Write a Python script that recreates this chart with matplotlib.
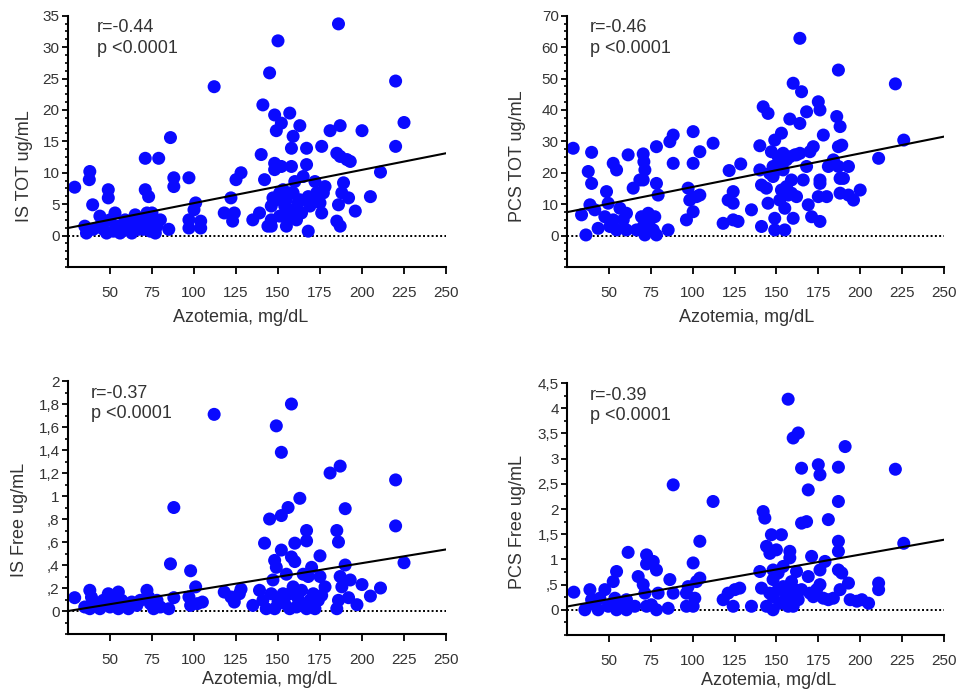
import matplotlib
matplotlib.use("Agg")
import matplotlib.pyplot as plt
from matplotlib.ticker import AutoMinorLocator, FixedLocator, FixedFormatter

plt.rcParams["font.family"] = ["Liberation Sans", "DejaVu Sans"]

# ---- data (azotemia mg/dL vs toxin ug/mL) ----
x_ticks = [50, 75, 100, 125, 150, 175, 200, 225, 250]

is_tot_x = [29, 38, 37.7, 39.7, 36, 35, 40, 44, 44, 49, 49, 48, 50, 53, 55, 56, 59, 61, 63, 65,
            67, 68, 71, 71, 73, 72, 73, 75, 77, 79, 80, 85, 86, 88, 88, 97, 101, 100, 97, 97,
            104, 104, 112, 118, 122, 124, 123, 125, 128, 135, 139, 140, 141, 142, 145, 146, 147, 146, 148, 149,
            150, 148, 148, 151, 152, 152, 153, 154, 155, 157, 158, 159, 158, 159, 160, 162, 163, 164, 165, 167,
            167, 168, 168, 169, 172, 175, 176, 176, 177, 178, 181, 186, 185, 187, 186, 185, 187, 187, 189, 188,
            191, 193, 192, 196, 200, 205, 211, 220, 220, 225,
            144, 146, 149, 151, 155, 157, 156, 159, 161, 163, 171, 173, 46, 52, 58, 62, 70, 74, 78, 75]
is_tot_y = [7.7, 10.2, 8.9, 4.9, 0.4, 1.5, 1.0, 3.1, 1.5, 7.3, 6.0, 0.4, 2.5, 3.6, 1.5, 0.4, 2.5, 1.5, 0.4, 3.3,
            1.0, 2.5, 12.3, 7.3, 6.2, 3.6, 2.5, 1.5, 0.4, 12.3, 2.5, 1.0, 15.6, 9.2, 7.8, 9.2, 5.2, 4.1, 2.5, 1.2,
            2.3, 1.2, 23.7, 3.6, 6.0, 3.6, 2.3, 8.9, 10.0, 2.5, 3.6, 12.9, 20.8, 8.9, 25.9, 4.7, 6.0, 1.5, 19.2, 16.7,
            31.0, 11.5, 10.5, 3.1, 17.9, 11.0, 7.3, 4.7, 1.5, 19.5, 13.9, 15.8, 11.0, 6.8, 8.6, 5.2, 17.5, 3.6, 9.4, 13.9,
            11.3, 0.7, 6.2, 4.7, 8.6, 5.2, 14.2, 3.6, 6.8, 7.8, 16.7, 33.7, 13.1, 17.5, 4.9, 2.3, 1.5, 12.6, 8.4, 6.8,
            12.1, 11.8, 6.0, 3.9, 16.7, 6.2, 10.1, 14.2, 24.6, 18.0,
            1.5, 2.5, 5.7, 6.8, 5.7, 6.8, 3.1, 4.1, 2.5, 5.7, 5.7, 6.8, 1.0, 0.7, 1.0, 2.3, 1.0, 0.7, 1.5, 3.6]

pcs_tot_x = [28.7, 33.7, 36.3, 39.7, 37.7, 39.7, 38.7, 41.6, 43.6, 48.6, 49.6, 47.6, 50.6, 52.6, 54.6, 52.6, 54.6, 56.6, 58.6, 60.5,
             61.5, 60.5, 64.5, 66.5, 68.5, 70.5, 70.9, 71.5, 70.5, 69.5, 70.5, 71.5, 73.5, 74.5, 76.5, 78.4, 78.4, 79.4, 78.4, 77.4,
             85.4, 86.4, 88.4, 88.4, 96.3, 97.3, 98.3, 100.3, 100.3, 100.3, 102.3, 104.3, 104.3, 112.2, 118.2, 121.8, 121.2, 124.2, 124.2, 124.2,
             127.1, 128.7, 135.1, 140.1, 141.1, 142.1, 145, 140.1, 141.1, 144, 145, 147, 148, 149, 148, 149, 149, 151, 152, 153,
             154, 153, 155, 155, 156, 157, 158, 159, 160, 160, 159, 161, 164, 164, 165, 166, 168, 168, 169, 170,
             171, 172, 175, 176, 176, 176, 175, 176, 178, 180, 181, 184, 186, 187, 188, 187, 189, 187, 188, 190,
             188, 193, 193, 196, 200, 211, 221, 226,
             146, 150, 152, 154, 158, 162, 164, 156, 162]
pcs_tot_y = [27.8, 6.6, 0.2, 26.5, 20.4, 16.6, 9.8, 8.2, 2.3, 14.0, 10.3, 6.0, 2.9, 23.0, 20.9, 5.0, 1.8, 8.7, 5.0, 7.1,
             25.7, 1.8, 15.1, 1.8, 17.7, 26.0, 23.5, 20.9, 17.7, 6.0, 2.9, 0.2, 7.1, 5.0, 1.8, 28.3, 16.6, 12.9, 0.2, 6.0,
             1.8, 29.9, 32.0, 23.0, 5.0, 15.1, 11.3, 7.6, 33.1, 23.0, 12.4, 26.7, 12.9, 29.4, 3.9, 20.7, 11.3, 14.0, 10.3, 5.0,
             4.5, 22.8, 8.2, 28.6, 2.9, 41.0, 38.9, 20.9, 16.1, 15.1, 10.3, 26.7, 22.0, 30.4, 18.8, 5.5, 1.8, 25.1, 11.3, 32.6,
             26.2, 14.5, 1.8, 8.7, 24.1, 12.9, 37.1, 17.7, 48.5, 5.5, 13.5, 25.7, 62.8, 35.7, 45.8, 17.7, 39.4, 22.0, 9.8, 26.7,
             6.0, 28.3, 42.6, 40.0, 17.7, 16.6, 12.4, 4.5, 32.0, 12.4, 22.0, 24.1, 37.9, 52.7, 34.7, 28.3, 28.8, 22.0, 18.2, 18.2,
             13.5, 22.0, 12.9, 11.3, 14.5, 24.6, 48.3, 30.4,
             19.8, 20.9, 24.1, 20.9, 25.1, 25.7, 26.2, 15.6, 12.4]

is_free_x = [29, 35, 38, 39, 38, 42, 44, 46, 49, 50, 52, 55, 55, 57, 59, 61, 63, 66, 68, 72,
             73, 74, 76, 78, 80, 86, 88, 88, 85, 98, 101, 97, 98, 102, 105, 112, 118, 122, 124, 127,
             128, 135, 139, 141, 142, 143, 145, 147, 148, 149, 148, 149, 152, 152, 152, 153, 155, 156, 158, 158,
             159, 160, 160, 162, 163, 164, 165, 167, 167, 167, 168, 170, 169, 175, 175, 176, 178, 181, 185, 186,
             187, 185, 186, 187, 188, 190, 190, 193, 192, 197, 200, 205, 211, 220, 220, 225,
             146, 150, 154, 157, 161, 163, 171, 174, 157, 172]
is_free_y = [0.116, 0.035, 0.18, 0.12, 0.02, 0.064, 0.02, 0.093, 0.15, 0.035, 0.093, 0.165, 0.02, 0.093, 0.064, 0.02, 0.078, 0.049, 0.093, 0.18,
             0.122, 0.064, 0.02, 0.093, 0.035, 0.41, 0.90, 0.116, 0.02, 0.35, 0.21, 0.122, 0.049, 0.064, 0.078, 1.71, 0.165, 0.122, 0.078, 0.15,
             0.19, 0.049, 0.18, 0.093, 0.59, 0.02, 0.80, 0.27, 0.44, 0.38, 0.02, 1.61, 1.38, 0.83, 0.53, 0.15, 0.32, 0.90, 1.80, 0.47,
             0.21, 0.59, 0.43, 0.107, 0.98, 0.18, 0.32, 0.70, 0.61, 0.02, 0.30, 0.38, 0.093, 0.48, 0.30, 0.136, 0.21, 1.20, 0.70, 0.60,
             1.26, 0.02, 0.093, 0.30, 0.21, 0.89, 0.40, 0.27, 0.116, 0.055, 0.23, 0.13, 0.20, 1.14, 0.74, 0.42,
             0.15, 0.078, 0.064, 0.15, 0.035, 0.064, 0.15, 0.093, 0.02, 0.02]

pcs_free_x = [29.1, 35.7, 38.7, 39.7, 41.6, 43.6, 44.6, 47.6, 49.6, 52.6, 54.6, 53.6, 54.6, 57.6, 60.5, 61.5, 60.5, 65.5, 67.5, 70.5,
              71.5, 72.5, 72.5, 72.5, 76.5, 78.4, 79.4, 78.4, 75.4, 85.4, 86.4, 88.4, 88.4, 96.3, 96.3, 97.3, 100.3, 100.3, 101.3, 102.3,
              104.3, 104.3, 112.2, 118.2, 121.2, 124.2, 125.2, 128.1, 135.1, 140.1, 141.1, 142.1, 143.1, 144.1, 144.1, 146.1, 147, 148, 148, 148,
              148, 150, 151, 153, 152, 154, 155, 157, 158, 158, 159, 160, 161, 163, 162, 165, 165, 168, 169, 169,
              170, 171, 174, 175, 176, 176, 176, 179, 181, 181, 187, 187, 187, 187, 187, 188, 189, 191, 193, 194,
              198, 201, 205, 211, 211, 221, 226,
              146, 151, 154, 156, 157, 161, 163, 165, 172, 178, 184, 160]
pcs_free_y = [0.35, 0.0, 0.40, 0.20, 0.10, 0.0, 0.23, 0.40, 0.07, 0.56, 0.76, 0.23, 0.0, 0.13, 0.0, 1.14, 0.20, 0.07, 0.66, 0.50,
              0.33, 1.09, 0.91, 0.07, 0.96, 0.79, 0.33, 0.0, 0.10, 0.03, 0.60, 2.48, 0.33, 0.07, 0.33, 0.46, 0.93, 0.07, 0.23, 0.56,
              1.36, 0.63, 2.15, 0.20, 0.33, 0.07, 0.40, 0.43, 0.07, 0.76, 0.43, 1.95, 1.82, 1.26, 0.07, 1.12, 1.49, 0.60, 0.79, 0.26,
              0.0, 1.19, 0.40, 1.49, 0.13, 0.86, 0.20, 4.18, 1.16, 1.03, 0.56, 3.41, 0.23, 3.51, 0.76, 1.72, 2.81, 1.75, 2.38, 0.66,
              0.33, 1.06, 0.40, 2.88, 2.68, 0.79, 0.50, 0.96, 1.79, 0.20, 2.83, 2.15, 1.36, 1.16, 0.79, 0.40, 0.73, 3.24, 0.53, 0.20,
              0.17, 0.20, 0.13, 0.53, 0.40, 2.79, 1.32,
              0.33, 0.73, 0.46, 0.33, 0.07, 0.40, 0.20, 0.40, 0.26, 0.23, 0.23, 0.07]

# regression lines (slope, intercept)
fit_lines = [(0.0529, -0.12), (0.1069, 4.78), (0.00238, -0.0596), (0.00589, -0.082)]
r_labels = ["r=-0.44", "r=-0.46", "r=-0.37", "r=-0.39"]
y_labels = ["IS TOT ug/mL", "PCS TOT ug/mL", "IS Free ug/mL", "PCS Free ug/mL"]

y_ticks = [
    [0, 5, 10, 15, 20, 25, 30, 35],
    [0, 10, 20, 30, 40, 50, 60, 70],
    [0, 0.2, 0.4, 0.6, 0.8, 1.0, 1.2, 1.4, 1.6, 1.8, 2.0],
    [0, 0.5, 1.0, 1.5, 2.0, 2.5, 3.0, 3.5, 4.0, 4.5],
]
y_tick_labels = [
    ["0", "5", "10", "15", "20", "25", "30", "35"],
    ["0", "10", "20", "30", "40", "50", "60", "70"],
    ["0", ",2", ",4", ",6", ",8", "1", "1,2", "1,4", "1,6", "1,8", "2"],
    ["0", ",5", "1", "1,5", "2", "2,5", "3", "3,5", "4", "4,5"],
]
y_limits = [(-5, 35), (-10, 70), (-0.2, 2.0), (-0.5, 4.5)]
minor_div = [4, 4, 2, 2]

panels = [(is_tot_x, is_tot_y), (pcs_tot_x, pcs_tot_y), (is_free_x, is_free_y), (pcs_free_x, pcs_free_y)]

# layout (figure fractions) and label placements
axes_rects = [
    [0.0708, 0.6125, 0.3938, 0.3647],
    [0.5906, 0.6125, 0.3927, 0.3647],
    [0.0708, 0.0798, 0.3938, 0.3672],
    [0.5906, 0.0784, 0.3927, 0.3656],
]
text_x = [0.077, 0.061, 0.06, 0.061]
xlabel_pos = [(0.458, -0.20), (0.477, -0.20), (0.534, -0.178), (0.536, -0.18)]
ylabel_pos = [(-0.114, 0.40), (-0.13, 0.44), (-0.127, 0.45), (-0.13, 0.45)]

blue = "#0a0aff"
text_col = "#333333"

fig = plt.figure(figsize=(9.6, 6.89), dpi=100)

for i, (xs, ys) in enumerate(panels):
    ax = fig.add_axes(axes_rects[i])
    ax.axhline(0, color="black", linestyle=(0, (1, 1.2)), linewidth=1.4, zorder=1)
    ax.scatter(xs, ys, s=88, color=blue, edgecolors="none", zorder=2)
    slope, intercept = fit_lines[i]
    ax.plot([25, 250], [slope * 25 + intercept, slope * 250 + intercept],
            color="black", linewidth=1.5, zorder=3)

    ax.set_xlim(25, 250)
    ax.set_ylim(*y_limits[i])
    ax.set_xticks(x_ticks)
    ax.yaxis.set_major_locator(FixedLocator(y_ticks[i]))
    ax.yaxis.set_major_formatter(FixedFormatter(y_tick_labels[i]))
    ax.yaxis.set_minor_locator(AutoMinorLocator(minor_div[i]))

    for side in ["top", "right"]:
        ax.spines[side].set_visible(False)
    for side in ["left", "bottom"]:
        ax.spines[side].set_linewidth(1.5)
    ax.tick_params(axis="x", direction="out", length=5, width=1.3, pad=9,
                   labelsize=11, labelcolor=text_col)
    ax.tick_params(axis="y", which="major", direction="out", length=4, width=1.3, pad=2,
                   labelsize=11, labelcolor=text_col)
    ax.tick_params(axis="y", which="minor", direction="out", length=2.5, width=1.2)

    ax.set_xlabel("Azotemia, mg/dL", fontsize=13, color=text_col, va="center")
    ax.xaxis.set_label_coords(*xlabel_pos[i])
    ax.set_ylabel(y_labels[i], fontsize=13, color=text_col, va="center")
    ax.yaxis.set_label_coords(*ylabel_pos[i])

    ax.text(text_x[i], 0.985, r_labels[i] + "\np <0.0001", transform=ax.transAxes,
            ha="left", va="top", fontsize=13, color=text_col, linespacing=1.25)

fig.savefig("out.png", dpi=100)
